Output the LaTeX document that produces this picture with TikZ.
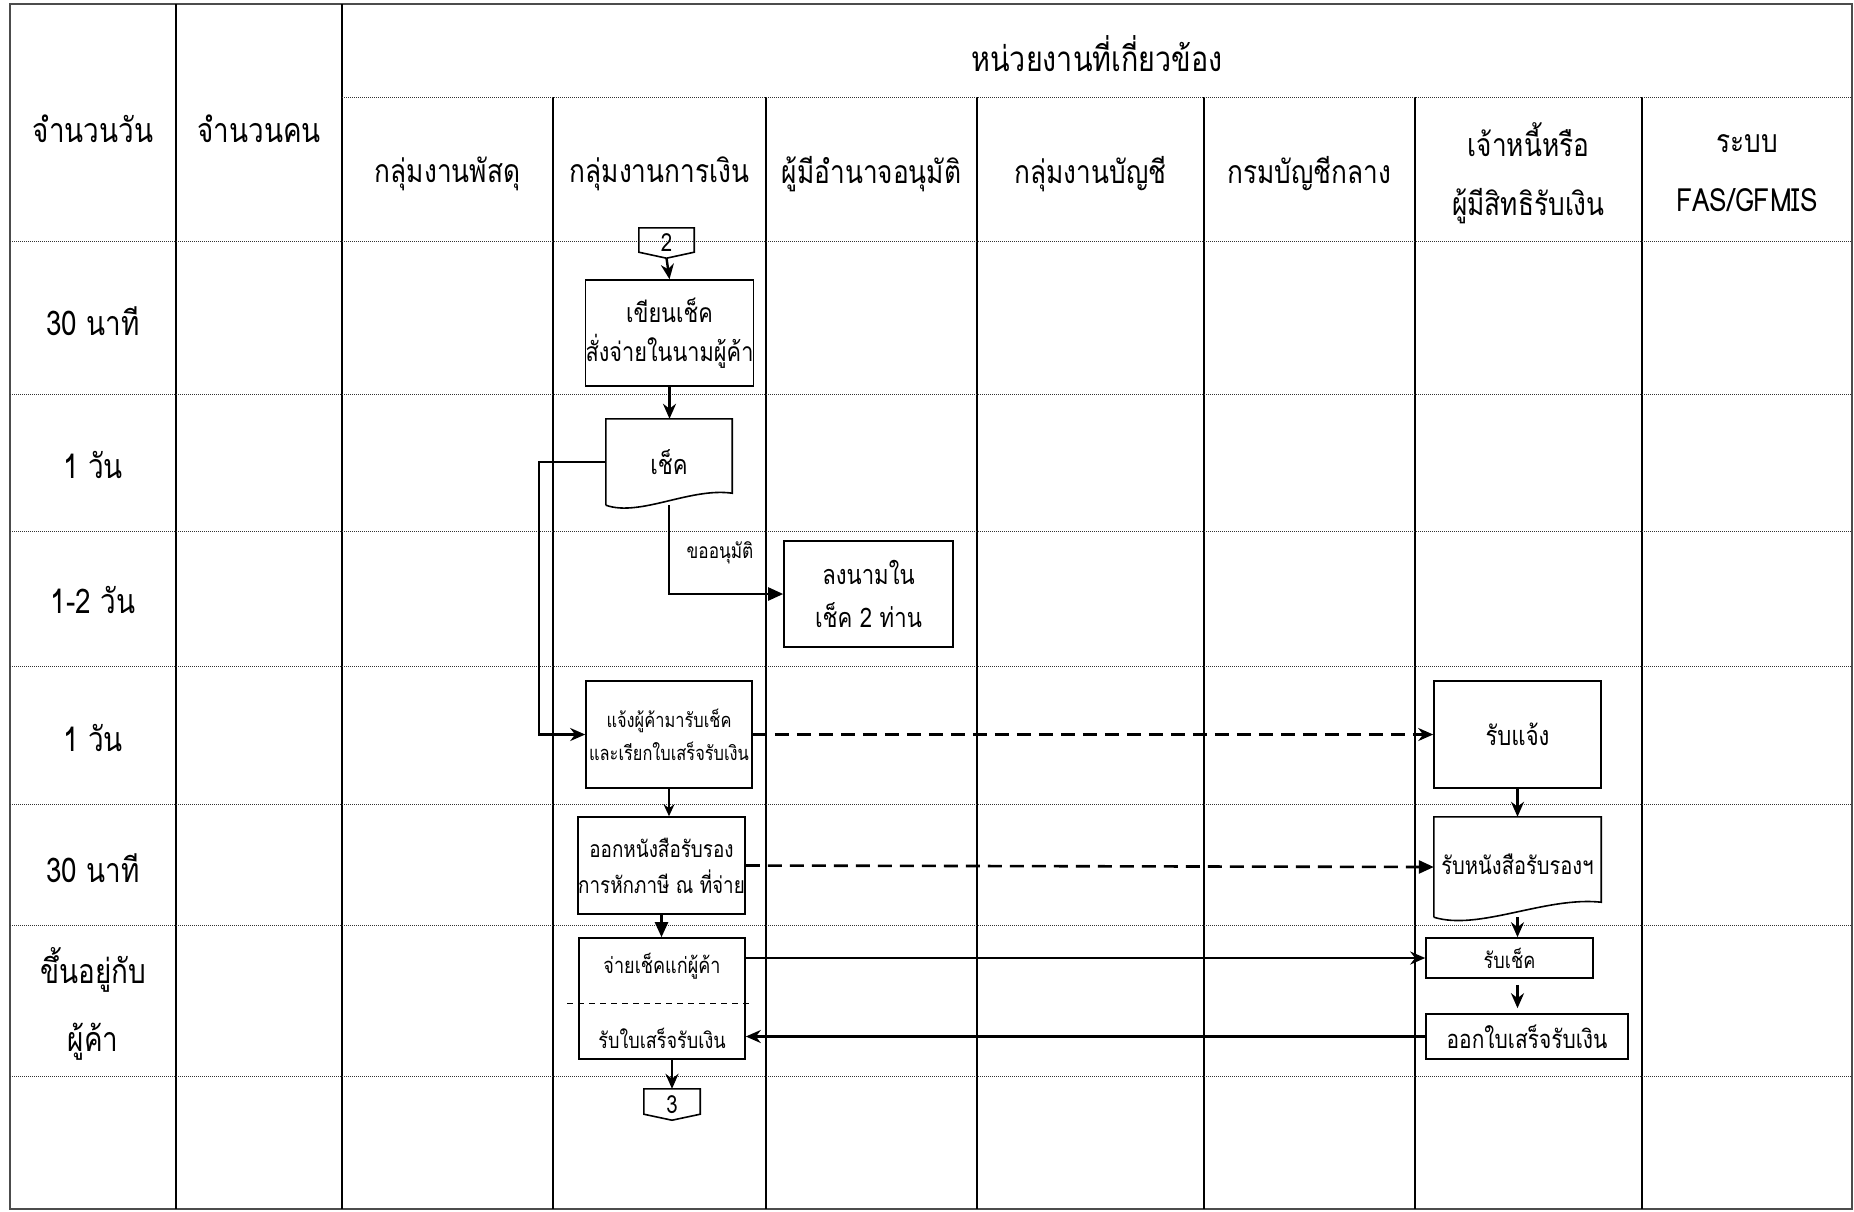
\documentclass[tikz,border=0pt]{standalone}
\usepackage{fontspec}
\setmainfont[Script=Thai, FakeStretch=0.82]{Loma}
\usetikzlibrary{arrows.meta,calc}
\newcommand\fsz[2]{\fontsize{#1}{#2}\selectfont}
\begin{document}
\begin{tikzpicture}[x=1pt,y=-1pt,
  lane/.style={line width=2.6pt},
  gridln/.style={line width=0.9pt, dash pattern=on 1pt off 1pt, black!80},
  hdr/.style={font=\fsz{32}{59}, align=center, inner sep=0pt},
  rowl/.style={font=\fsz{34}{68}, align=center, inner sep=0pt},
  box/.style={draw, line width=1.6pt, align=center, inner sep=0pt},
  ghost/.style={align=center, inner sep=0pt},
  flow/.style={line width=2.4pt, -{Stealth[length=15pt,width=13pt]}},
  flowtri/.style={line width=2.4pt, -{Triangle[length=15pt,width=13pt]}},
  dflow/.style={line width=2.6pt, dash pattern=on 14pt off 8pt, -{Stealth[length=15pt,width=13pt]}},
  dflowtri/.style={line width=2.6pt, dash pattern=on 14pt off 8pt, -{Triangle[length=15pt,width=13pt]}},
  thin/.style={line width=1.6pt, -{Stealth[length=12pt,width=11pt]}},
]
\useasboundingbox (0,0) rectangle (1854,1211);
\fill[white] (0,0) rectangle (1854,1211);
% grid
\draw[line width=1.6pt, black!70] (10,4) rectangle (1852,1209);
\foreach \x in {176,342} \draw[lane] (\x,4) -- (\x,1209);
\foreach \x in {553,766,977,1204,1415,1642} \draw[lane] (\x,97) -- (\x,1209);
\draw[gridln] (342,97) -- (1852,97);
\foreach \y in {241,394,531,666,804,925,1076} \draw[gridln] (10,\y) -- (1852,\y);
% headers
\node[rowl] (hdays) at (93,129) {จำนวนวัน};
\node[rowl] (hppl) at (259,129) {จำนวนคน};
\node[hdr, font=\fsz{35}{40}] (hunit) at (1097,54) {หน่วยงานที่เกี่ยวข้อง};
\node[hdr] (l1) at (447.5,174) {กลุ่มงานพัสดุ};
\node[hdr] (l2) at (659.5,174) {กลุ่มงานการเงิน};
\node[hdr] (l3) at (871.5,174) {ผู้มีอำนาจอนุมัติ};
\node[hdr] (l4) at (1090.5,174) {กลุ่มงานบัญชี};
\node[hdr] (l5) at (1309.5,174) {กรมบัญชีกลาง};
\node[hdr] (l6) at (1528.5,173) {เจ้าหนี้หรือ\\ผู้มีสิทธิรับเงิน};
\node[hdr] (l7) at (1747,173) {ระบบ\\FAS/GFMIS};
% row labels
\node[rowl] (t1) at (93,321) {30 นาที};
\node[rowl] (t2) at (93,465) {1 วัน};
\node[rowl] (t3) at (93,600) {1-2 วัน};
\node[rowl] (t4) at (93,738) {1 วัน};
\node[rowl] (t5) at (93,868) {30 นาที};
\node[rowl] (t6) at (93,1004) {ขึ้นอยู่กับ\\ผู้ค้า};
% flow nodes
\node[ghost, minimum width=55pt, minimum height=30pt, font=\fsz{25}{28}] (c2) at (666.5,243) {2};
\draw[line width=1.6pt] (c2.north west) -- (c2.north east) -- ($(c2.south east)+(0,-6)$) -- (c2.south) -- ($(c2.south west)+(0,-6)$) -- cycle;
\node[box, minimum width=167pt, minimum height=106pt, font=\fsz{26.5}{39}] (b1) at (669.5,333) {เขียนเช็ค\\สั่งจ่ายในนามผู้ค้า};
\node[ghost, minimum width=126pt, minimum height=86pt, font=\fsz{27}{39}] (d1) at (669,462) {เช็ค};
\draw[line width=1.6pt] (d1.south west) -- (d1.north west) -- (d1.north east) -- ($(d1.south east)+(0,-12)$) .. controls ($(d1.south east)+(-42,-18)$) and ($(d1.south west)+(34,12)$) .. (d1.south west);
\node[box, minimum width=169pt, minimum height=106pt, font=\fsz{27}{43}] (b2) at (868.5,594) {ลงนามใน\\เช็ค 2 ท่าน};
\node[box, minimum width=166pt, minimum height=107pt, font=\fsz{20}{33}] (b3) at (669,734.5) {แจ้งผู้ค้ามารับเช็ค\\และเรียกใบเสร็จรับเงิน};
\node[box, minimum width=167pt, minimum height=97pt, font=\fsz{23}{36}] (b4) at (661.5,865.5) {ออกหนังสือรับรอง\\การหักภาษี ณ ที่จ่าย};
\node[box, minimum width=166pt, minimum height=121pt] (b5) at (662,998.5) {};
\node[ghost, font=\fsz{22}{26}] (b5a) at (662,966) {จ่ายเช็คแก่ผู้ค้า};
\node[ghost, font=\fsz{22}{26}] (b5b) at (662,1038) {รับใบเสร็จรับเงิน};
\draw[line width=1pt, dash pattern=on 6pt off 5pt] (567,1003) -- (751,1003);
\node[ghost, minimum width=56pt, minimum height=31pt, font=\fsz{25}{28}] (c3) at (672,1104.5) {3};
\draw[line width=1.6pt] (c3.north west) -- (c3.north east) -- ($(c3.south east)+(0,-6)$) -- (c3.south) -- ($(c3.south west)+(0,-6)$) -- cycle;
\node[box, minimum width=167pt, minimum height=107pt, font=\fsz{27}{30}] (r1) at (1517.5,734.5) {รับแจ้ง};
\node[ghost, minimum width=167pt, minimum height=100pt] (r2) at (1517.5,867) {};
\node[ghost, font=\fsz{24.5}{28}] (r2t) at (1517.5,864) {รับหนังสือรับรองฯ};
\draw[line width=1.6pt] (r2.south west) -- (r2.north west) -- (r2.north east) -- ($(r2.south east)+(0,-15)$) .. controls ($(r2.south east)+(-56,-21)$) and ($(r2.south west)+(45,14)$) .. (r2.south west);
\node[box, minimum width=167pt, minimum height=40pt, font=\fsz{22}{26}] (r3) at (1509.5,958) {รับเช็ค};
\node[box, minimum width=202pt, minimum height=45pt, font=\fsz{25.5}{29}] (r4) at (1527,1036.5) {ออกใบเสร็จรับเงิน};
\node[ghost, font=\fsz{21}{24}] (lbl) at (720,553) {ขออนุมัติ};
% connectors
\draw[flow] (c2.south) -- (b1.north);
\draw[flow] (b1.north |- b1.south) -- (b1.north |- d1.north);
\draw[flowtri] (d1.south) -- (d1.south |- b2.west) -- (b2.west);
\draw[flow] (d1.west) -- ++(-67,0) |- (b3.west);
\draw[thin] (b3.south) -- (b3.south |- b4.north);
\draw[flowtri] (b4.south) -- (b4.south |- b5.north);
\draw[flow] (c3.north |- b5.south) -- (c3.north);
\draw[dflow] (b3.east) -- (r1.west);
\draw[dflowtri] (b4.east) -- (r2.west);
\draw[flow] (r1.south) -- (r2.north);
\draw[flow] (r1.south |- r2.south) -- (r1.south |- r3.north);
\draw[flow] (b5.east |- r3.west) -- (r3.west);
\draw[flow, shorten <=6pt, shorten >=5pt] (r1.south |- r3.south) -- (r1.south |- r4.north);
\draw[flow] (r4.west) -- (b5.east |- r4.west);
\end{tikzpicture}
\end{document}
